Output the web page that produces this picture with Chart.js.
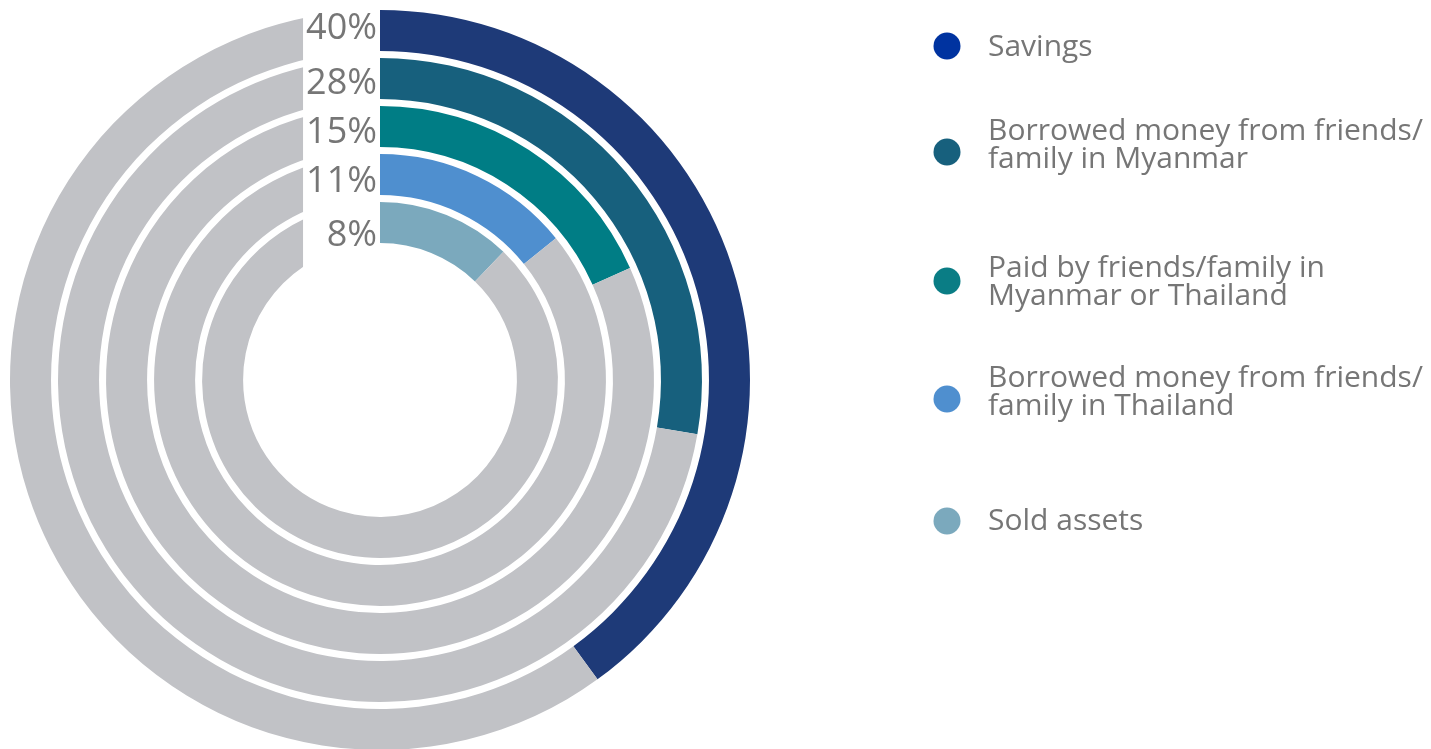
<!DOCTYPE html>
<html>
<head>
<meta charset="utf-8">
<script src="https://cdn.jsdelivr.net/npm/chart.js@4"></script>
<style>
  html, body { margin: 0; padding: 0; background: #fff; overflow: hidden; }
  #wrap { position: relative; width: 1431px; height: 760px; }
</style>
</head>
<body>
<div id="wrap"><canvas id="myChart"></canvas></div>
<script>
// data
var categories = [
    ['Savings'],
    ['Borrowed money from friends/', 'family in Myanmar'],
    ['Paid by friends/family in', 'Myanmar or Thailand'],
    ['Borrowed money from friends/', 'family in Thailand'],
    ['Sold assets']
];
// printed percentages
var values = [40, 28, 15, 11, 8];
// share of the circle the coloured arcs actually cover in the original graphic
// (the inner rings are drawn a bit longer than their printed value)
var arcShares = [40, 27.7, 18.3, 14.2, 12.2];
var ringColors = ['#1E3A78', '#17607D', '#007D85', '#4F8FCF', '#7BA9BD'];
var legendColors = ['#0033A0', '#17607D', '#0A7D85', '#4F8FCF', '#7BA9BD'];
var restColor = '#C1C2C6';
var textColor = '#767676';

// layout bits
var labelNudge = [-4, 3, 4, 5, 11];
var legendMarkerY = [46, 152, 281, 399, 521];
var legendTextY = [46, 130, 267, 377, 520];

var datasets = [];
arcShares.forEach(function(v, i) {
    if (i > 0) {
        datasets.push({ data: [1], backgroundColor: ['rgba(0,0,0,0)'], weight: 7, borderWidth: 0, spacer: true });
    }
    datasets.push({
        label: categories[i].join(' '),
        data: [v, 100 - v],
        backgroundColor: [ringColors[i], restColor],
        weight: 41,
        borderWidth: 0
    });
});

var ringLabels = {
    id: 'ringLabels',
    afterDatasetsDraw: function(chart) {
        var ctx = chart.ctx;
        var outer = chart.getDatasetMeta(0).data[0];
        var cx = outer.x, cy = outer.y, R = outer.outerRadius;
        // white gap at the top for the percentages
        ctx.save();
        ctx.fillStyle = '#fff';
        ctx.fillRect(cx - R * 0.208, 0, R * 0.208, cy);
        ctx.fillStyle = textColor;
        ctx.font = '36px "Open Sans"';
        ctx.textAlign = 'right';
        ctx.textBaseline = 'middle';
        var k = 0;
        chart.data.datasets.forEach(function(ds, di) {
            if (ds.spacer) return;
            var arc = chart.getDatasetMeta(di).data[0];
            var mid = (arc.outerRadius + arc.innerRadius) / 2;
            ctx.fillText(values[k] + '%', cx - 3, cy - mid + 2 + labelNudge[k]);
            k++;
        });

        // legend
        var lx = 947, tx = 988;
        ctx.textAlign = 'left';
        ctx.font = '30px "Open Sans"';
        categories.forEach(function(lines, i) {
            ctx.fillStyle = legendColors[i];
            ctx.beginPath();
            ctx.arc(lx, legendMarkerY[i], 13.5, 0, Math.PI * 2);
            ctx.fill();
            ctx.fillStyle = textColor;
            lines.forEach(function(line, j) {
                ctx.fillText(line, tx, legendTextY[i] + 1 + j * 28);
            });
        });
        ctx.restore();
    }
};

var options = {
    type: 'doughnut',
    data: {
        labels: ['value', 'rest'],
        datasets: datasets
    },
    options: {
        responsive: true,
        maintainAspectRatio: false,
        animation: false,
        cutout: '37%',
        layout: { padding: { left: 10, top: 10, right: 681, bottom: 10 } },
        plugins: {
            legend: { display: false },
            tooltip: { enabled: false }
        }
    },
    plugins: [ringLabels]
};

var ctx = document.getElementById('myChart');
var chart = new Chart(ctx, options);
</script>
</body>
</html>
